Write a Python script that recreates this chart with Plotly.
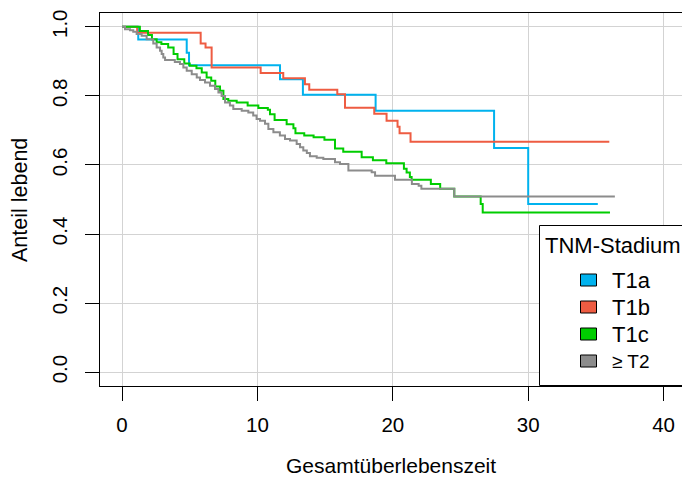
import plotly.graph_objects as go

# ---------------- data ----------------
groups = ["T1a", "T1b", "T1c", "\u2265 T2"]
colors = ["#00B2EE", "#EE5C42", "#00CD00", "#8C8C8C"]

t1a_time = [0, 1.20, 4.78, 4.95, 11.67, 13.36, 18.73, 27.48, 30.00, 35.14]
t1a_surv = [1.0, 0.963, 0.925, 0.889, 0.848, 0.803, 0.757, 0.649, 0.487, 0.487]

t1b_time = [0, 1.12, 5.81, 6.17, 6.62, 10.24, 11.91, 13.51, 13.83, 15.90, 16.47,
            18.63, 19.54, 20.35, 20.50, 21.31, 35.99]
t1b_surv = [1.0, 0.983, 0.952, 0.940, 0.882, 0.866, 0.851, 0.834, 0.818, 0.805, 0.766,
            0.748, 0.728, 0.711, 0.692, 0.667, 0.667]

t1c_time = [0, 1.32, 1.92, 2.21, 2.56, 2.91, 3.41, 3.81, 4.10, 4.60, 5.00, 5.50, 5.89,
            6.25, 6.59, 6.89, 7.24, 7.49, 7.85, 8.47, 9.28, 10.07, 10.77, 10.93, 11.27,
            12.16, 12.66, 12.81, 13.46, 14.15, 14.95, 15.73, 16.34, 17.70, 18.53, 19.52,
            20.82, 21.02, 21.26, 21.39, 22.81, 23.50, 24.54, 26.49, 26.64, 36.04]
t1c_surv = [1.0, 0.988, 0.976, 0.964, 0.955, 0.950, 0.940, 0.921, 0.906, 0.894, 0.887,
            0.880, 0.868, 0.853, 0.844, 0.827, 0.815, 0.791, 0.786, 0.781, 0.772, 0.765,
            0.760, 0.747, 0.730, 0.718, 0.706, 0.692, 0.685, 0.680, 0.673, 0.648, 0.638,
            0.622, 0.614, 0.605, 0.589, 0.578, 0.565, 0.557, 0.545, 0.531, 0.509, 0.487,
            0.462, 0.462]

t2_time = [0, 0.22, 0.59, 0.83, 1.08, 1.45, 1.82, 2.31, 2.56, 2.81, 2.93, 3.05, 3.18,
           3.90, 4.28, 4.53, 4.78, 5.15, 5.52, 5.76, 6.13, 6.50, 6.87, 7.12, 7.36, 7.61,
           7.97, 8.22, 8.84, 9.33, 9.69, 9.94, 10.19, 10.56, 10.81, 11.18, 11.66, 12.04,
           12.41, 12.90, 13.15, 13.39, 13.65, 13.88, 14.38, 14.87, 15.73, 16.10, 16.72,
           18.44, 18.69, 20.16, 21.41, 21.91, 22.11, 24.54, 36.40]
t2_surv = [1.0, 0.993, 0.990, 0.986, 0.979, 0.974, 0.964, 0.952, 0.940, 0.931, 0.921,
           0.911, 0.904, 0.898, 0.892, 0.882, 0.873, 0.863, 0.853, 0.846, 0.839, 0.829,
           0.820, 0.810, 0.800, 0.781, 0.772, 0.762, 0.757, 0.752, 0.743, 0.733, 0.728,
           0.719, 0.704, 0.695, 0.685, 0.675, 0.671, 0.661, 0.651, 0.642, 0.635, 0.625,
           0.621, 0.617, 0.608, 0.603, 0.584, 0.579, 0.569, 0.557, 0.545, 0.540, 0.531,
           0.509, 0.509]

x_ticks = [0, 10, 20, 30, 40]
y_ticks = [0.0, 0.2, 0.4, 0.6, 0.8, 1.0]
y_ticklabels = ["0.0", "0.2", "0.4", "0.6", "0.8", "1.0"]
x_title = "Gesamt\u00fcberlebenszeit"
y_title = "Anteil lebend"
legend_title = "TNM-Stadium"

series = [(t1a_time, t1a_surv), (t1b_time, t1b_surv), (t1c_time, t1c_surv), (t2_time, t2_surv)]

# ---------------- layout geometry ----------------
W, H = 682, 480
ML, MR, MT, MB = 100, 0, 13, 94
PW, PH = W - ML - MR, H - MT - MB
FONT = "Liberation Sans, Arial, sans-serif"


def px(xp):
    return (xp - ML) / PW


def py(yp):
    return (H - MB - yp) / PH


fig = go.Figure()
for name, col, (t, s) in zip(groups, colors, series):
    fig.add_trace(go.Scatter(x=t, y=s, mode="lines", name=name,
                             line=dict(color=col, width=2, shape="hv"),
                             showlegend=False, hoverinfo="skip"))

fig.update_layout(
    width=W, height=H,
    margin=dict(l=ML, r=MR, t=MT, b=MB, pad=0),
    paper_bgcolor="white", plot_bgcolor="white",
    font=dict(family=FONT, size=20, color="black"),
    showlegend=False,
)
fig.update_xaxes(
    range=[-1.625, -1.625 + PW / 13.54], tickvals=x_ticks, ticktext=[str(v) for v in x_ticks],
    showgrid=True, gridcolor="#D3D3D3", gridwidth=1, zeroline=False,
    showline=True, linecolor="black", linewidth=1, mirror=True,
    ticks="outside", ticklen=14, tickcolor="black", tickwidth=1,
    tickfont=dict(size=20.5, family=FONT), ticklabelstandoff=6,
)
fig.update_yaxes(
    range=[-0.04, 1.04], tickvals=y_ticks, ticktext=y_ticklabels,
    showgrid=True, gridcolor="#D3D3D3", gridwidth=1, zeroline=False,
    showline=True, linecolor="black", linewidth=1, mirror=False,
    ticks="outside", ticklen=14, tickcolor="black", tickwidth=1,
    tickangle=-90, tickfont=dict(size=20.5, family=FONT), ticklabelstandoff=10,
)

# axis titles
fig.add_annotation(text=x_title, xref="paper", yref="paper", x=px(391), y=py(466),
                   xanchor="center", yanchor="middle", showarrow=False,
                   font=dict(size=21, family=FONT))
fig.add_annotation(text=y_title, xref="paper", yref="paper", x=px(20), y=py(200),
                   xanchor="center", yanchor="middle", textangle=-90, showarrow=False,
                   font=dict(size=21.5, family=FONT))

# legend box (drawn manually to match the reference)
fig.add_shape(type="rect", xref="paper", yref="paper",
              x0=px(539.5), x1=px(700), y0=py(385.5), y1=py(225.5),
              line=dict(color="black", width=1), fillcolor="white", layer="above")
fig.add_annotation(text=legend_title, xref="paper", yref="paper", x=px(543), y=py(245),
                   xanchor="left", yanchor="middle", showarrow=False,
                   font=dict(size=22, family=FONT))
row_y = [280, 307, 334, 361]
for name, col, ry in zip(groups, colors, row_y):
    fig.add_shape(type="rect", xref="paper", yref="paper",
                  x0=px(580.5), x1=px(596.5), y0=py(ry + 6), y1=py(ry - 6),
                  line=dict(color="black", width=1), fillcolor=col, layer="above")
    fig.add_annotation(text=name, xref="paper", yref="paper", x=px(610), y=py(ry),
                       xanchor="left", yanchor="middle", showarrow=False,
                       font=dict(size=22 if name.startswith("T") else 19, family=FONT))

fig.write_html("out.html")
